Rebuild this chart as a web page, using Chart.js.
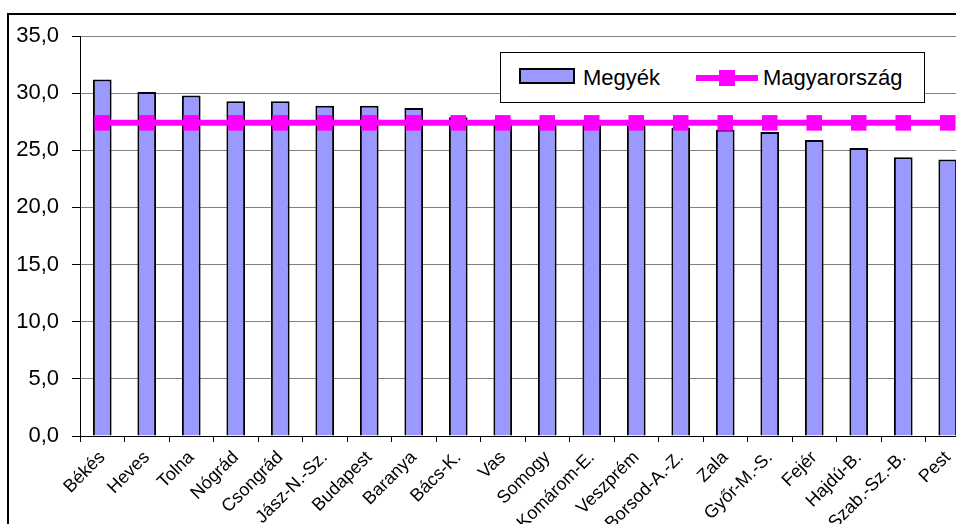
<!DOCTYPE html>
<html>
<head>
<meta charset="utf-8">
<script src="https://cdn.jsdelivr.net/npm/chart.js@4/dist/chart.umd.min.js"></script>
<style>
  html, body { margin: 0; padding: 0; background: #fff; overflow: hidden; }
  body { width: 956px; height: 524px; position: relative; font-family: "Liberation Sans", Arial, sans-serif; }
  #frame { position: absolute; left: 7px; top: 13px; width: 1100px; height: 700px; border: 2px solid #000; }
  #myChart { position: absolute; left: 0; top: 0; }
  #legend { position: absolute; left: 500px; top: 52px; width: 423px; height: 49px; border: 1px solid #000; background: #fff; font-size: 22px; color: #000; }
  .item { position: absolute; top: 0; height: 49px; line-height: 49px; }
  .sw-bar { position: absolute; top: 15px; width: 52px; height: 12px; background: #9999ff; border: 2px solid #000; }
  .sw-line { position: absolute; top: 22px; width: 62px; height: 6px; background: #ff00ff; }
  .sw-mark { position: absolute; top: 17px; width: 16px; height: 16px; background: #ff00ff; }
</style>
</head>
<body>
<div id="frame"></div>
<canvas id="myChart" width="1000" height="524"></canvas>
<div id="legend"></div>
<script>
let labels = ["Békés", "Heves", "Tolna", "Nógrád", "Csongrád", "Jász-N.-Sz.", "Budapest", "Baranya", "Bács-K.", "Vas",
  "Somogy", "Komárom-E.", "Veszprém", "Borsod-A.-Z.", "Zala", "Győr-M.-S.", "Fejér", "Hajdú-B.", "Szab.-Sz.-B.", "Pest"];
let megyek = [31.2, 30.1, 29.8, 29.3, 29.3, 28.9, 28.9, 28.7, 27.9, 27.7,
  27.6, 27.4, 27.2, 27.0, 26.8, 26.6, 25.9, 25.2, 24.4, 24.2];
let magyarorszag = [27.4, 27.4, 27.4, 27.4, 27.4, 27.4, 27.4, 27.4, 27.4, 27.4,
  27.4, 27.4, 27.4, 27.4, 27.4, 27.4, 27.4, 27.4, 27.4, 27.4];
let yTicks = [0, 5, 10, 15, 20, 25, 30, 35];

var ctx = document.getElementById("myChart");
var chart = new Chart(ctx, {
  type: "bar",
  data: {
    labels: labels,
    datasets: [
      {
        type: "line",
        label: "Magyarország",
        data: magyarorszag,
        borderColor: "#ff00ff",
        backgroundColor: "#ff00ff",
        borderWidth: 6,
        pointStyle: "rect",
        pointRadius: 11,
        pointBorderWidth: 0,
        order: 0,
      },
      {
        label: "Megyék",
        data: megyek,
        backgroundColor: "#9999ff",
        borderColor: "#000",
        borderWidth: 2,
        barPercentage: 0.42,
        categoryPercentage: 1,
        order: 1,
      },
    ],
  },
  options: {
    responsive: false,
    animation: false,
    layout: {
      padding: { top: 36, right: 30, left: 0, bottom: 0 },
    },
    plugins: {
      legend: { display: false },
      tooltip: { enabled: false },
    },
    scales: {
      x: {
        grid: { offset: true, drawOnChartArea: false, tickLength: 6, tickColor: "#000" },
        border: { color: "#000", width: 1 },
        ticks: {
          color: "#000",
          font: { family: "Liberation Sans", size: 18 },
          minRotation: 45,
          maxRotation: 45,
          autoSkip: false,
          padding: 5,
        },
        afterFit: function (scale) { scale.height = 88; },
      },
      y: {
        min: 0,
        max: 35,
        afterBuildTicks: function (scale) {
          scale.ticks = yTicks.map(function (v) { return { value: v }; });
        },
        grid: { color: "#808080", tickLength: 8, tickColor: "#000" },
        border: { color: "#000", width: 1 },
        ticks: {
          color: "#000",
          font: { family: "Liberation Sans", size: 22 },
          padding: 13,
          callback: function (v) { return v.toFixed(1).replace(".", ","); },
        },
        afterFit: function (scale) { scale.width = 80; },
      },
    },
  },
});

// legend
let lg = document.getElementById("legend");
lg.innerHTML =
  '<div class="sw-bar" style="left:18px"></div>' +
  '<div class="item" style="left:82px">' + chart.data.datasets[1].label + '</div>' +
  '<div class="sw-line" style="left:195px"></div>' +
  '<div class="sw-mark" style="left:218px"></div>' +
  '<div class="item" style="left:262px">' + chart.data.datasets[0].label + '</div>';
</script>
</body>
</html>
